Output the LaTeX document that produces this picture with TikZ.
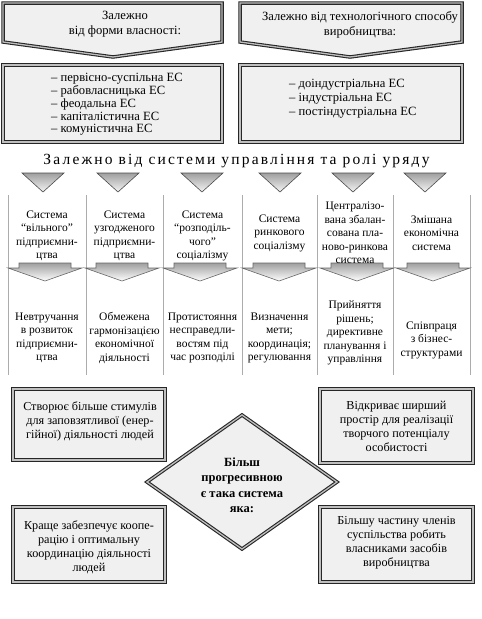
\documentclass[tikz,border=0pt]{standalone}
\usepackage{fontspec}
\setmainfont{Liberation Serif}
\begin{document}
\begin{tikzpicture}[x=1pt,y=-1pt,
  boxst/.style={draw=black!85, line width=1.1pt, double=gray!50, double distance=1.3pt, fill=black!6, line join=miter},
  txt/.style={font=\fontsize{11.5}{13.5}\selectfont, align=center, inner sep=0pt},
  toptxt/.style={font=\fontsize{12.6}{15}\selectfont, align=center, inner sep=0pt},
  boxtxt/.style={font=\fontsize{12.2}{14}\selectfont, align=center, inner sep=0pt},
  bold/.style={font=\fontsize{12.5}{15.5}\selectfont\bfseries, align=center, inner sep=0pt},
  colline/.style={draw=gray!65, line width=0.8pt},
  tri/.style={draw=black!70, line width=0.6pt, top color=gray!75, bottom color=gray!8},
  barrow/.style={draw=black!60, line width=0.6pt, top color=gray!75, bottom color=white}
]
\useasboundingbox (0,0) rectangle (482,619);

% top chevron boxes
\draw[boxst] (3,3) -- (222,3) -- (222,42) -- (113,57) -- (3,42) -- cycle;
\draw[boxst] (240,3) -- (462,3) -- (462,42) -- (350,57) -- (240,42) -- cycle;
\node[toptxt] (t1) at (125,24.5) {Залежно\\ від форми власності:};
\node[toptxt] (t2) at (360,24.5) {Залежно від технологічного способу\\ виробництва:};

% list boxes
\draw[boxst] (3,65) rectangle (222,142);
\draw[boxst] (240,65) rectangle (462,142);
\node[toptxt, align=left, anchor=west, font=\fontsize{12.6}{12.8}\selectfont] (l1) at (51,104.5)
  {– первісно-суспільна ЕС\\ – рабовласницька ЕС\\ – феодальна ЕС\\ – капіталістична ЕС\\ – комуністична ЕС};
\node[toptxt, align=left, anchor=west, font=\fontsize{12.6}{14}\selectfont] (l2) at (289,99)
  {– доіндустріальна ЕС\\ – індустріальна ЕС\\ – постіндустріальна ЕС};

% title
\node[inner sep=0pt, font=\fontsize{15.5}{17}\selectfont\addfontfeature{LetterSpace=14}] (title) at (236.5,161)
  {Залежно від системи управління та ролі уряду};

% top triangles
\foreach \cx in {43,118,202,280,353,425}
  \draw[tri] (\cx-21,173) -- (\cx+21,173) -- (\cx,192) -- cycle;

% column lines
\foreach \lx in {8,86,163,242,317,393,470}
  \draw[colline] (\lx,195) -- (\lx,375);

% block arrows
\foreach \cx in {45,122,200,279,357,433}
  \draw[barrow] (\cx-26,263) -- (\cx+26,263) -- (\cx+26,268) -- (\cx+37,268) -- (\cx,281) -- (\cx-37,268) -- (\cx-26,268) -- cycle;

% column headers
\node[txt] (h1) at (47,236) {Система\\ “вільного”\\ підприємни-\\ цтва};
\node[txt] (h2) at (124.5,236) {Система\\ узгодженого\\ підприємни-\\ цтва};
\node[txt] (h3) at (202.5,236) {Система\\ “розподіль-\\ чого”\\ соціалізму};
\node[txt] (h4) at (279.5,233) {Система\\ ринкового\\ соціалізму};
\node[txt] (h5) at (355,233) {Централізо-\\ вана збалан-\\ сована пла-\\ ново-ринкова\\ система};
\node[txt] (h6) at (431.5,233) {Змішана\\ економічна\\ система};

% column results
\node[txt] (r1) at (47,338) {Невтручання\\ в розвиток\\ підприємни-\\ цтва};
\node[txt] (r2) at (124.5,338) {Обмежена\\ гармонізацією\\ економічної\\ діяльності};
\node[txt] (r3) at (202.5,338) {Протистояння\\ несправедли-\\ востям під\\ час розподілі};
\node[txt] (r4) at (279.5,338) {Визначення\\ мети;\\ координація;\\ регулювання};
\node[txt] (r5) at (355,333) {Прийняття\\ рішень;\\ директивне\\ планування і\\ управління};
\node[txt] (r6) at (431.5,340) {Співпраця\\ з бізнес-\\ структурами};

% bottom boxes
\draw[boxst] (13,389) rectangle (165,460);
\draw[boxst] (320,389) rectangle (473,463);
\draw[boxst] (13,507) rectangle (165,582);
\draw[boxst] (320,507) rectangle (473,582);
\node[boxtxt] (b1) at (90,421.7) {Створює більше стимулів\\ для заповзятливої (енер-\\ гійної) діяльності людей};
\node[boxtxt] (b2) at (396.5,426) {Відкриває ширший\\ простір для реалізації\\ творчого потенціалу\\ особистості};
\node[boxtxt] (b3) at (89,547.5) {Краще забезпечує коопе-\\ рацію і оптимальну\\ координацію діяльності\\ людей};
\node[boxtxt] (b4) at (396.5,543) {Більшу частину членів\\ суспільства робить\\ власниками засобів\\ виробництва};

% diamond
\draw[boxst] (242,415) -- (337,482) -- (242,549) -- (147,482) -- cycle;
\node[bold] (d) at (242,485) {Більш\\ прогресивною\\ є така система\\ яка:};
\end{tikzpicture}
\end{document}
